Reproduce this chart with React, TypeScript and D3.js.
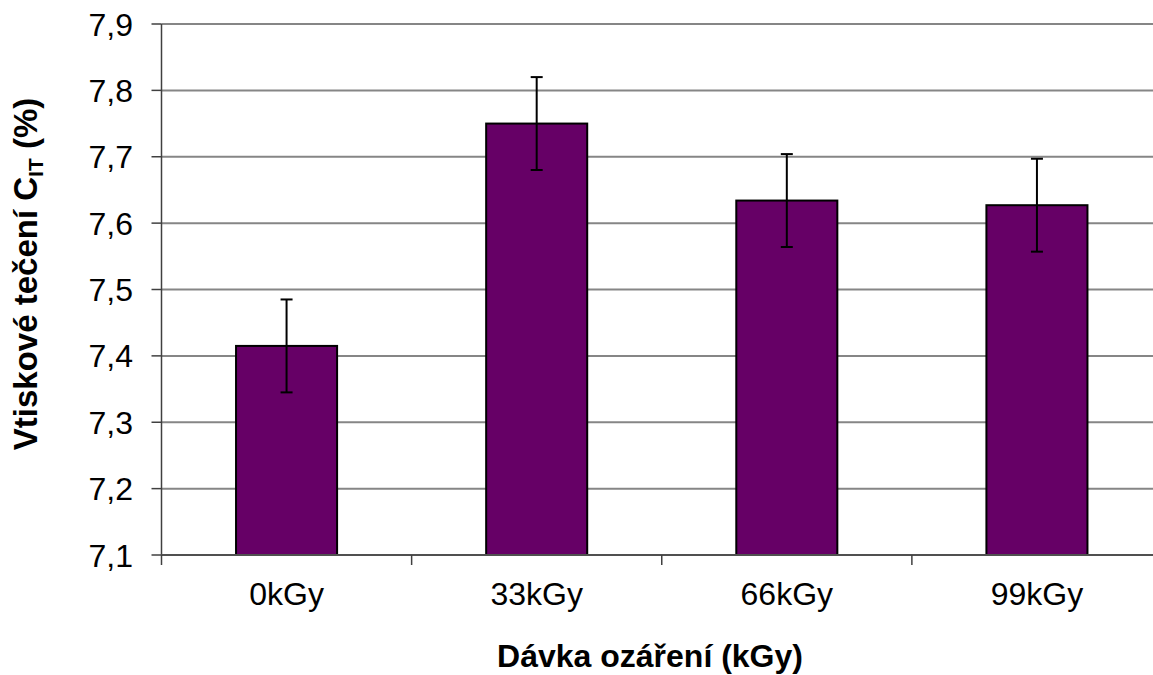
import React from "react";
import * as d3 from "d3";

const categories = ["0kGy", "33kGy", "66kGy", "99kGy"];
const values = [7.415, 7.75, 7.634, 7.627];
const errors = [0.07, 0.07, 0.07, 0.07];
const yTicks = [7.1, 7.2, 7.3, 7.4, 7.5, 7.6, 7.7, 7.8, 7.9];

const W = 1153;
const H = 675;
const left = 161.5;
const right = 1162;
const top = 24;
const bottom = 555;
const FONT = "'Liberation Sans', Arial, sans-serif";

export default function App() {
  const x = d3
    .scaleBand<string>()
    .domain(categories)
    .range([left, right])
    .paddingInner(0.596)
    .paddingOuter(0.298);
  const y = d3.scaleLinear().domain([7.1, 7.9]).range([bottom, top]);
  const fmt = (v: number) => d3.format(".1f")(v).replace(".", ",");
  const step = x.step();
  const catEdges = d3.range(categories.length + 1).map((i) => left + i * step);

  return (
    <svg
      width={W}
      height={H}
      style={{ position: "absolute", left: 0, top: 0, background: "#fff" }}
      fontFamily={FONT}
    >
      <rect x={0} y={0} width={W} height={H} fill="#fff" />
      {/* gridlines */}
      {yTicks.slice(1).map((t) => (
        <line key={"g" + t} x1={left} x2={right} y1={y(t)} y2={y(t)} stroke="#868686" strokeWidth={2} />
      ))}
      {/* y axis */}
      <line x1={left} x2={left} y1={top} y2={bottom} stroke="#404040" strokeWidth={1.5} />
      {yTicks.map((t) => (
        <g key={"t" + t}>
          <line x1={left - 10} x2={left} y1={y(t)} y2={y(t)} stroke="#404040" strokeWidth={1.5} />
          <text x={133} y={y(t)} dy="0.36em" textAnchor="end" fontSize={32} fill="#000">
            {fmt(t)}
          </text>
        </g>
      ))}
      {/* bars */}
      {categories.map((c, i) => (
        <rect
          key={"b" + c}
          x={x(c)!}
          y={y(values[i])}
          width={x.bandwidth()}
          height={y(7.1) - y(values[i])}
          fill="#660066"
          stroke="#000"
          strokeWidth={2}
        />
      ))}
      {/* x axis */}
      <line x1={left} x2={right} y1={bottom} y2={bottom} stroke="#505050" strokeWidth={2} />
      {catEdges.map((e, i) => (
        <line key={"xt" + i} x1={e} x2={e} y1={bottom} y2={bottom + 10} stroke="#404040" strokeWidth={1.5} />
      ))}
      {/* error bars */}
      {categories.map((c, i) => {
        const cx = x(c)! + x.bandwidth() / 2;
        const y1 = y(values[i] + errors[i]);
        const y2 = y(values[i] - errors[i]);
        return (
          <g key={"e" + c} stroke="#000" strokeWidth={2}>
            <line x1={cx} x2={cx} y1={y1} y2={y2} />
            <line x1={cx - 6} x2={cx + 6} y1={y1} y2={y1} />
            <line x1={cx - 6} x2={cx + 6} y1={y2} y2={y2} />
          </g>
        );
      })}
      {/* x tick labels */}
      {categories.map((c) => (
        <text key={"l" + c} x={x(c)! + x.bandwidth() / 2} y={605} textAnchor="middle" fontSize={32} fill="#000">
          {c}
        </text>
      ))}
      {/* axis titles */}
      <text x={650} y={667} textAnchor="middle" fontSize={32} fontWeight="bold" fill="#000">
        Dávka ozáření (kGy)
      </text>
      <text
        transform="translate(37,274) rotate(-90)"
        textAnchor="middle"
        fontSize={33}
        fontWeight="bold"
        fill="#000"
      >
        Vtiskové tečení C
        <tspan fontSize={21} dy={6}>IT</tspan>
        <tspan dy={-6}> (%)</tspan>
      </text>
    </svg>
  );
}
